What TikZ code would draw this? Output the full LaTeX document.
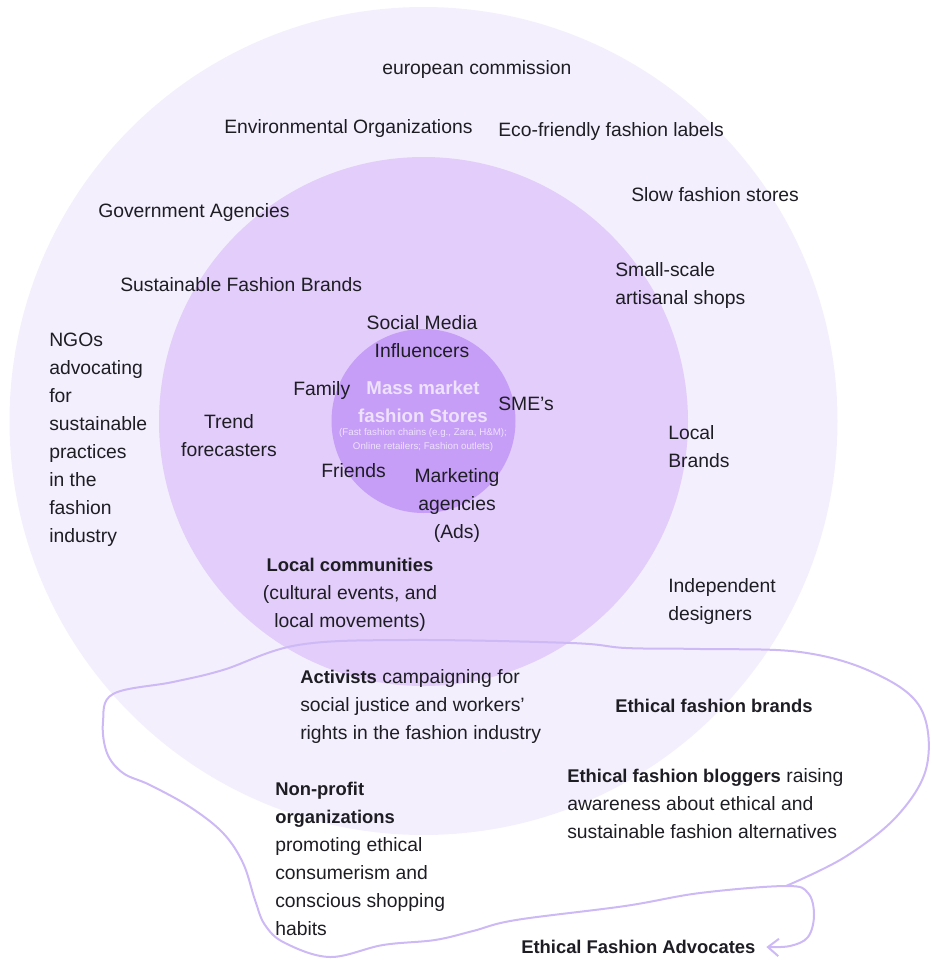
\documentclass[tikz,border=0pt]{standalone}
\usepackage{fontspec}
\setmainfont{Liberation Sans}
\usepackage{tikz}
\usetikzlibrary{arrows.meta}
\definecolor{outerring}{HTML}{F4EFFD}
\definecolor{middlering}{HTML}{E2CDFB}
\definecolor{innerring}{HTML}{C69EF7}
\definecolor{coretext}{HTML}{EEE2FD}
\definecolor{inktext}{HTML}{1F1D24}
\definecolor{lassoline}{HTML}{CDB9F6}
\newcommand*\strongtext[1]{{\fontsize{13.8}{21}\selectfont\bfseries #1}}

\begin{document}
\begin{tikzpicture}[x=0.75pt,y=-0.75pt,>={Straight Barb[length=8pt,width=13pt]},
		lbl/.style={inner sep=0pt,text=inktext,font=\fontsize{14.5}{21}\selectfont},
		core/.style={inner sep=0pt,text=coretext,align=center}]
	\useasboundingbox (0,0) rectangle (932,961);

	\fill[outerring] (423.5,421) circle[radius=414];
	\fill[middlering] (423.5,421.5) circle[radius=264.5];
	\fill[innerring] (423.5,421) circle[radius=92];

	\node (masstitle) [core,font=\fontsize{14}{21}\selectfont\bfseries] at (423,402) {Mass market\\fashion Stores};
	\node (massnote) [core,font=\fontsize{7.3}{10.5}\selectfont] at (423,440) {(Fast fashion chains (e.g., Zara, H\&M);\\Online retailers; Fashion outlets)};

	\node (eucom) [lbl,anchor=west] at (382,69) {european commission};
	\node (envorg) [lbl,anchor=west] at (224,128) {Environmental Organizations};
	\node (ecolabels) [lbl,anchor=west] at (498,131) {Eco-friendly fashion labels};
	\node (slowstores) [lbl,anchor=west] at (631,195) {Slow fashion stores};
	\node (govagency) [lbl,anchor=west] at (98,212) {Government Agencies};
	\node (susbrands) [lbl,anchor=west] at (120,285) {Sustainable Fashion Brands};
	\node (artisan) [lbl,anchor=west,align=left] at (615,285) {Small-scale\\artisanal shops};
	\node (ngos) [lbl,anchor=west,align=left] at (49,439.5) {NGOs\\advocating\\for\\sustainable\\practices\\in the\\fashion\\industry};
	\node (localbrands) [lbl,anchor=west,align=left] at (668,447) {Local\\Brands};
	\node (indep) [lbl,anchor=west,align=left] at (668,601) {Independent\\designers};

	\node (influencers) [lbl,align=center] at (422,337) {Social Media\\Influencers};
	\node (trend) [lbl,align=center] at (229,436) {Trend\\forecasters};
	\node (family) [lbl,anchor=west] at (293,390) {Family};
	\node (friends) [lbl,anchor=west] at (321,471) {Friends};
	\node (smes) [lbl,anchor=west] at (498,404) {SME’s};
	\node (marketing) [lbl,align=center] at (457,505) {Marketing\\agencies\\(Ads)};
	\node (localcom) [lbl,align=center] at (350,595) {\strongtext{Local communities}\\(cultural events, and\\local movements)};

	\node (activists) [lbl,anchor=west,align=left] at (300,706) {\strongtext{Activists} campaigning for\\social justice and workers{\char"27}\\rights in the fashion industry};
	\node (ethbrands) [lbl,anchor=west] at (615,706) {\strongtext{Ethical fashion brands}};
	\node (nonprofit) [lbl,anchor=west,align=left] at (275,858.5) {\strongtext{Non-profit}\\\strongtext{organizations}\\promoting ethical\\consumerism and\\conscious shopping\\habits};
	\node (bloggers) [lbl,anchor=west,align=left] at (567,804) {\strongtext{Ethical fashion bloggers} raising\\awareness about ethical and\\sustainable fashion alternatives};
	\node (advocates) [lbl,anchor=west] at (521,947) {\strongtext{Ethical Fashion Advocates}};

	\draw[lassoline,line width=1.5pt,line cap=round,line join=round,->]
		plot[smooth,tension=0.6] coordinates {
			(786,886) (845,857) (898,815) (927,765) (920,707) (872,672) (800,652)
			(700,649) (626,648) (571,643) (407,640) (298,645) (223,670) (173,682)
			(113,694) (103,722) (107,753) (123,773) (150,785) (190,807) (223,833)
			(243,863) (255,900) (265,925) (285,943) (330,957) (383,945) (435,940)
			(473,931) (516,920) (625,906) (700,893) (786,886) (808,893) (814,915)
			(808,937) (790,946) ([xshift=8pt]advocates.east)};
\end{tikzpicture}
\end{document}
